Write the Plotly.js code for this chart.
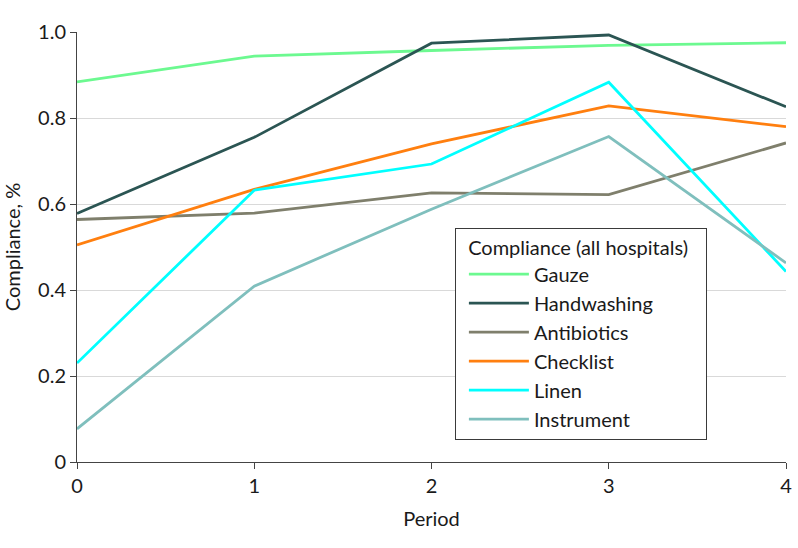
<!DOCTYPE html>
<html>
<head>
<meta charset="utf-8">
<script src="https://cdn.plot.ly/plotly-3.0.1.min.js"></script>
<style>html,body{margin:0;padding:0;background:#fff;}#chart{width:798px;height:548px;}</style>
</head>
<body>
<div id="chart"></div>
<script>
const periods = [0, 1, 2, 3, 4];
const seriesNames = ["Gauze", "Handwashing", "Antibiotics", "Checklist", "Linen", "Instrument"];
const gauze = [0.884, 0.944, 0.957, 0.969, 0.975];
const handwashing = [0.578, 0.755, 0.974, 0.993, 0.826];
const antibiotics = [0.564, 0.579, 0.626, 0.622, 0.742];
const checklist = [0.505, 0.634, 0.740, 0.828, 0.780];
const linen = [0.230, 0.632, 0.693, 0.883, 0.443];
const instrument = [0.077, 0.409, 0.588, 0.757, 0.463];
const colors = ["#6cf990", "#2b5553", "#7f7f6c", "#ff7f0f", "#00ffff", "#7fbfbd"];
const xTicks = [0, 1, 2, 3, 4];
const yTicks = [0, 0.2, 0.4, 0.6, 0.8, 1.0];
const yTickText = ["0", "0.2", "0.4", "0.6", "0.8", "1.0"];

const allValues = [gauze, handwashing, antibiotics, checklist, linen, instrument];
const FONT = "Lato, 'Noto Sans', sans-serif";
const FS = 20;

const traces = allValues.map((vals, i) => ({
  x: periods,
  y: vals,
  name: seriesNames[i],
  type: "scatter",
  mode: "lines",
  line: {color: colors[i], width: 2.8},
  hoverinfo: "skip"
}));

const layout = {
  width: 798,
  height: 548,
  margin: {l: 77, r: 12, t: 32, b: 86},
  paper_bgcolor: "#ffffff",
  plot_bgcolor: "#ffffff",
  font: {family: FONT, size: FS, color: "#1a1a1a"},
  showlegend: true,
  legend: {
    x: 0.533, y: 0.545, xanchor: "left", yanchor: "top",
    bgcolor: "#ffffff",
    bordercolor: "#3a3a3a",
    borderwidth: 1,
    font: {family: FONT, size: FS, color: "#1a1a1a"},
    title: {text: "&nbsp;&nbsp;Compliance (all hospitals)&nbsp;&nbsp;&nbsp;", font: {family: FONT, size: FS, color: "#1a1a1a"}},
    itemwidth: 60,
    indentation: 8,
    tracegroupgap: 0
  },
  xaxis: {
    range: [0, 4],
    tickvals: xTicks,
    ticktext: xTicks.map(String),
    showgrid: false,
    zeroline: false,
    showline: true,
    linecolor: "#444",
    linewidth: 1,
    ticks: "outside",
    ticklen: 6,
    tickcolor: "#444",
    tickfont: {family: FONT, size: FS, color: "#1a1a1a"},
    title: {text: "Period", font: {family: FONT, size: FS, color: "#1a1a1a"}, standoff: 15}
  },
  yaxis: {
    range: [0, 1.0],
    tickvals: yTicks,
    ticktext: yTickText,
    showgrid: true,
    gridcolor: "#d9d9d9",
    gridwidth: 1,
    zeroline: false,
    showline: true,
    linecolor: "#444",
    linewidth: 1,
    ticks: "outside",
    ticklen: 6,
    tickcolor: "#444",
    tickfont: {family: FONT, size: FS, color: "#1a1a1a"},
    title: {text: "Compliance, %", font: {family: FONT, size: FS, color: "#1a1a1a"}, standoff: 12}
  }
};

Plotly.newPlot("chart", traces, layout, {displayModeBar: false, staticPlot: true});
</script>
</body>
</html>
